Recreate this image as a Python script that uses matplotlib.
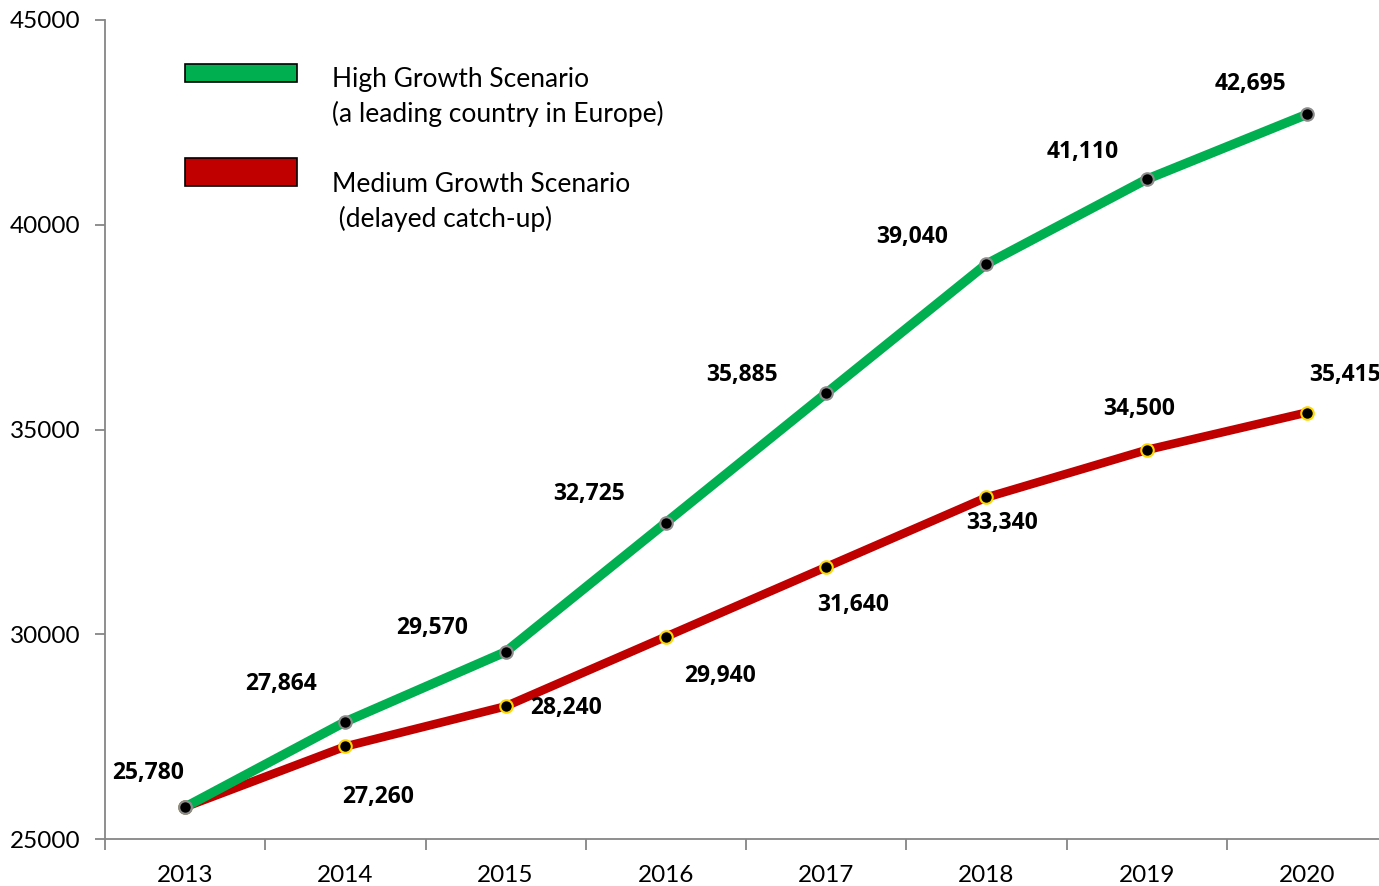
import matplotlib
matplotlib.use("Agg")
import matplotlib.pyplot as plt
from matplotlib.patches import Rectangle
import numpy as np

plt.rcParams["font.family"] = ["Lato", "DejaVu Sans"]

years = ["2013", "2014", "2015", "2016", "2017", "2018", "2019", "2020"]
high_growth = [25780, 27864, 29570, 32725, 35885, 39040, 41110, 42695]
medium_growth = [25780, 27260, 28240, 29940, 31640, 33340, 34500, 35415]

GREEN = "#00b050"
RED = "#c00000"
AXIS = "#868686"
LABEL_FONT = ["Open Sans", "DejaVu Sans"]

# label offsets in pixels (dx, dy) from each marker
high_offsets = [(-37, 34), (-64, 38), (-74, 24), (-77, 29),
                (-84, 18), (-74, 27), (-64, 27), (-56, 30)]
medium_offsets = [None, (33, -51), (60, -2), (54, -39),
                  (27, -38), (16, -26), (-7, 41), (38, 38)]

fig = plt.figure(figsize=(13.79, 8.86), dpi=100)
ax = fig.add_axes([105 / 1379, 1 - 839 / 886, 1282 / 1379, 819 / 886])

x = np.arange(len(years))
ax.plot(x, high_growth, color=GREEN, lw=6.8, solid_capstyle="butt",
        marker="o", ms=9, mfc="black", mec="#8c8c8c", mew=1.5, zorder=3)
ax.plot(x, medium_growth, color=RED, lw=6.2, solid_capstyle="butt",
        marker="o", ms=9, mfc="black", mec="#ffd700", mew=1.5, zorder=2)
# first point shares the green marker
ax.plot(x[0], high_growth[0], "o", ms=9, mfc="black", mec="#8c8c8c",
        mew=1.5, zorder=4)

for xi, v, off in zip(x, high_growth, high_offsets):
    ax.annotate(f"{v:,}", (xi, v), xytext=(off[0] * 0.72, off[1] * 0.72),
                textcoords="offset points", ha="center", va="center",
                fontsize=16.5, fontweight="bold", family=LABEL_FONT)
for xi, v, off in zip(x, medium_growth, medium_offsets):
    if off is None:
        continue
    ax.annotate(f"{v:,}", (xi, v), xytext=(off[0] * 0.72, off[1] * 0.72),
                textcoords="offset points", ha="center", va="center",
                fontsize=16.5, fontweight="bold", family=LABEL_FONT,
                annotation_clip=False)

ax.set_xlim(-0.5, len(years) - 0.5)
ax.set_ylim(25000, 45000)
ax.set_yticks(np.arange(25000, 45001, 5000))
ax.set_xticks(x)
ax.set_xticklabels(years)
ax.set_xticks(np.arange(-0.5, len(years), 1.0), minor=True)
ax.tick_params(axis="x", which="major", length=0, pad=19, labelsize=17.5)
ax.tick_params(axis="x", which="minor", length=8, color=AXIS, width=1.3)
ax.tick_params(axis="y", length=7, color=AXIS, width=1.3, pad=10.5,
               labelsize=17.5)
for s in ["top", "right"]:
    ax.spines[s].set_visible(False)
for s in ["left", "bottom"]:
    ax.spines[s].set_color(AXIS)
    ax.spines[s].set_linewidth(1.3)

# legend boxes and text, placed in figure pixels
def px(xp, yp):
    return xp / 1379, 1 - yp / 886

fig.patches.append(Rectangle(px(185, 82), 112 / 1379, 18 / 886,
                             transform=fig.transFigure, fc=GREEN,
                             ec="black", lw=1.2))
fig.patches.append(Rectangle(px(185, 186), 112 / 1379, 28 / 886,
                             transform=fig.transFigure, fc=RED,
                             ec="black", lw=1.2))
fig.text(*px(332, 79), "High Growth Scenario", fontsize=19, va="center")
fig.text(*px(332, 114), "(a leading country in Europe)", fontsize=19,
         va="center")
fig.text(*px(332, 185), "Medium Growth Scenario", fontsize=19, va="center")
fig.text(*px(332, 219), " (delayed catch-up)", fontsize=19, va="center")

fig.savefig("out.png", dpi=100, facecolor="white")
